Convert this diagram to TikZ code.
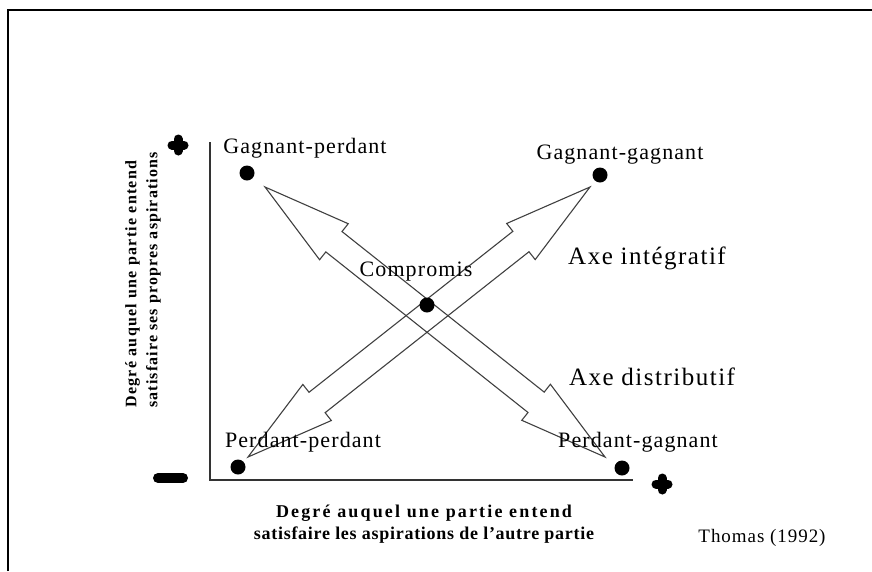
\documentclass[tikz,border=0pt]{standalone}
\usepackage{fontspec}
\setmainfont{Liberation Serif}
\newfontfamily\lblfont[LetterSpace=5]{Liberation Serif}
\newfontfamily\axefont[LetterSpace=6]{Liberation Serif}
\newfontfamily\widefont[LetterSpace=12]{Liberation Serif}
\newfontfamily\midfont[LetterSpace=8]{Liberation Serif}
\newfontfamily\titlefont[LetterSpace=7]{Liberation Serif}
\newfontfamily\tightfont[LetterSpace=4]{Liberation Serif}
\usetikzlibrary{calc}
\def\headlen{88pt}
\def\headhalf{23pt}
\def\shafthalf{13pt}
\def\dblarrow(#1)(#2){\draw[bigarrow] (#1)
	-- ($(#1)!\headlen!(#2)!\headhalf!90:(#2)$)
	-- ($(#1)!\headlen!(#2)!\shafthalf!90:(#2)$)
	-- ($(#2)!\headlen!(#1)!\shafthalf!-90:(#1)$)
	-- ($(#2)!\headlen!(#1)!\headhalf!-90:(#1)$)
	-- (#2)
	-- ($(#2)!\headlen!(#1)!\headhalf!90:(#1)$)
	-- ($(#2)!\headlen!(#1)!\shafthalf!90:(#1)$)
	-- ($(#1)!\headlen!(#2)!\shafthalf!-90:(#2)$)
	-- ($(#1)!\headlen!(#2)!\headhalf!-90:(#2)$)
	-- cycle;}
\tikzset{
	bigarrow/.style={line width=1.1pt, draw=black!75, line join=miter},
	dot/.style={fill=black},
	outcome/.style={font=\lblfont\fontsize{22}{24}\selectfont, inner sep=0pt},
	axe/.style={font=\axefont\fontsize{25}{28}\selectfont, inner sep=0pt},
	axislbl/.style={font=\bfseries\fontsize{#1}{#1}\selectfont, inner sep=0pt},
	sign/.style={line width=9pt, line cap=round}
}
\begin{document}
\begin{tikzpicture}[x=1pt, y=-1pt]
	%%%%% START %%%%%
	\useasboundingbox (0,0) rectangle (872,571);
	
	\draw[line width=2pt] (8,571) -- (8,10) -- (872,10);
	
	% axes
	\coordinate (ytop) at (210,142);
	\coordinate (orig) at (210,480);
	\coordinate (xend) at (633,480);
	\draw[line width=1.3pt, color=black!80] (ytop) -- (orig) -- (xend);
	
	% signs
	\draw[sign] (172,145) -- (184,145);
	\draw[sign] (178,139) -- (178,151);
	\draw[line width=10pt, line cap=round] (158,478) -- (183,478);
	\draw[sign] (656,484) -- (668,484);
	\draw[sign] (662,478) -- (662,490);
	
	% the two axes
	\coordinate (dA) at (265,187);
	\coordinate (dB) at (605,457);
	\coordinate (iA) at (248,457);
	\coordinate (iB) at (590,187);
	\dblarrow(dA)(dB)
	\dblarrow(iA)(iB)
	
	% positions
	\coordinate (gp) at (247,173);
	\coordinate (gg) at (600,175);
	\coordinate (pp) at (238,467);
	\coordinate (pg) at (622,468);
	\coordinate (cm) at (427,305);
	\foreach \p in {gp,gg,pp,pg,cm}
		\fill[dot] (\p) circle (7.5);
	
	\node[outcome] (gplbl) at (305,148) {Gagnant-perdant};
	\node[outcome] (gglbl) at (620,155) {Gagnant-gagnant};
	\node[outcome] (pplbl) at (303,442) {Perdant-perdant};
	\node[outcome] (pglbl) at (638,442) {Perdant-gagnant};
	\node[outcome] (cmlbl) at (416,272) {Compromis};
	
	\node[axe] (intlbl) at (647,258) {Axe intégratif};
	\node[axe] (distlbl) at (652,377) {Axe distributif};
	
	\node[axislbl=16, rotate=90, align=left] (ylbl) at (143,280) {{\midfont Degré auquel une partie entend}\\[5pt]{\titlefont satisfaire ses propres aspirations}};
	\node[axislbl=18, align=center] (xlbl) at (424,524) {{\widefont Degré auquel une partie entend}\\[4pt]{\tightfont satisfaire les aspirations de l’autre partie}};
	
	\node[font=\lblfont\fontsize{19}{20}\selectfont, inner sep=0pt] (src) at (762,538) {Thomas (1992)};
	%%%%% END %%%%%
\end{tikzpicture}
\end{document}
